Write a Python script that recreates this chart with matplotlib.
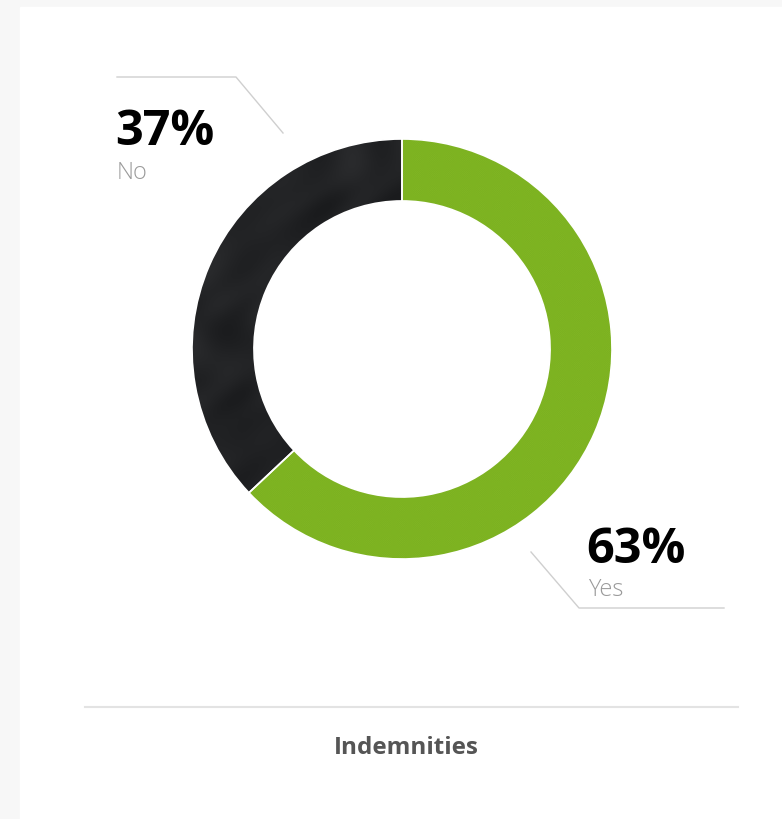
import numpy as np
import matplotlib.pyplot as plt

labels = ['Yes', 'No']
shares = [63, 37]
colors = ['#7db41f', '#222325']

W, H = 782, 819
fig = plt.figure(figsize=(W / 100, H / 100), dpi=100)
fig.patch.set_facecolor('#f7f7f7')

# full-figure overlay in pixel coordinates for the card, lines and text
bg = fig.add_axes([0, 0, 1, 1])
bg.set_xlim(0, W)
bg.set_ylim(H, 0)
bg.axis('off')
bg.add_patch(plt.Rectangle((20, 7), W - 20, H - 7, color='white', zorder=0))

# donut
cx, cy, r = 402, 349, 210
ax = fig.add_axes([(cx - r) / W, (H - cy - r) / H, 2 * r / W, 2 * r / H])
wedges, _ = ax.pie(shares, colors=colors, startangle=90, counterclock=False,
                   radius=1, wedgeprops=dict(width=0.295, edgecolor='white', linewidth=1.2))
ax.set_xlim(-1, 1)
ax.set_ylim(-1, 1)
ax.axis('off')

# fabric / leather texture over each wedge
n = 600
gx, gy = np.meshgrid(np.linspace(-1, 1, n), np.linspace(-1, 1, n))
weave = 0.5 + 0.5 * np.sin(gx * 700) * np.sin(gy * 700)
green = np.ones((n, n, 4))
base = np.array([0x7f, 0xb5, 0x22]) / 255
for i in range(3):
    green[..., i] = np.clip(base[i] * (0.93 + 0.12 * weave), 0, 1)
mottle = (np.sin(gx * 11 + 2.5 * np.sin(gy * 5)) * np.sin(gy * 9 + 1.5 * np.cos(gx * 7))
          + 0.4 * np.sin(gx * 23 - gy * 19 + np.sin(gy * 13)))
dark = np.ones((n, n, 4))
base = np.array([0x22, 0x23, 0x25]) / 255
for i in range(3):
    dark[..., i] = np.clip(base[i] + 0.022 * mottle, 0, 1)
for wedge, tex in zip(wedges, [green, dark]):
    im = ax.imshow(tex, extent=(-1, 1, -1, 1), origin='lower', zorder=wedge.get_zorder() + 0.1)
    im.set_clip_path(wedge)
for wedge in wedges:
    edge = plt.matplotlib.patches.Wedge(wedge.center, wedge.r, wedge.theta1, wedge.theta2,
                                        width=wedge.width, facecolor='none',
                                        edgecolor='white', linewidth=1.2, zorder=5)
    ax.add_patch(edge)

# leader lines
line_c = '#cfcfcf'
bg.plot([117, 236, 283], [77, 77, 133], color=line_c, lw=1)
bg.plot([531, 579, 724], [552, 608, 608], color=line_c, lw=1)

font = 'Open Sans'
bg.text(115, 145, f'{shares[1]}%', fontsize=35, fontweight='bold', family=font,
        color='black', va='baseline', ha='left')
bg.text(117, 179, labels[1], fontsize=17, fontweight='light', family=font,
        color='#9a9a9a', va='baseline', ha='left')
bg.text(586, 563, f'{shares[0]}%', fontsize=35, fontweight='bold', family=font,
        color='black', va='baseline', ha='left')
bg.text(588, 596, labels[0], fontsize=17, fontweight='light', family=font,
        color='#9a9a9a', va='baseline', ha='left')

# footer
bg.plot([85, 738], [707, 707], color='#e3e3e3', lw=1.5)
bg.text(406, 754, 'Indemnities', fontsize=17.5, fontweight='bold', family=font,
        color='#555555', va='baseline', ha='center')

fig.savefig('out.png', dpi=100, facecolor=fig.get_facecolor())
